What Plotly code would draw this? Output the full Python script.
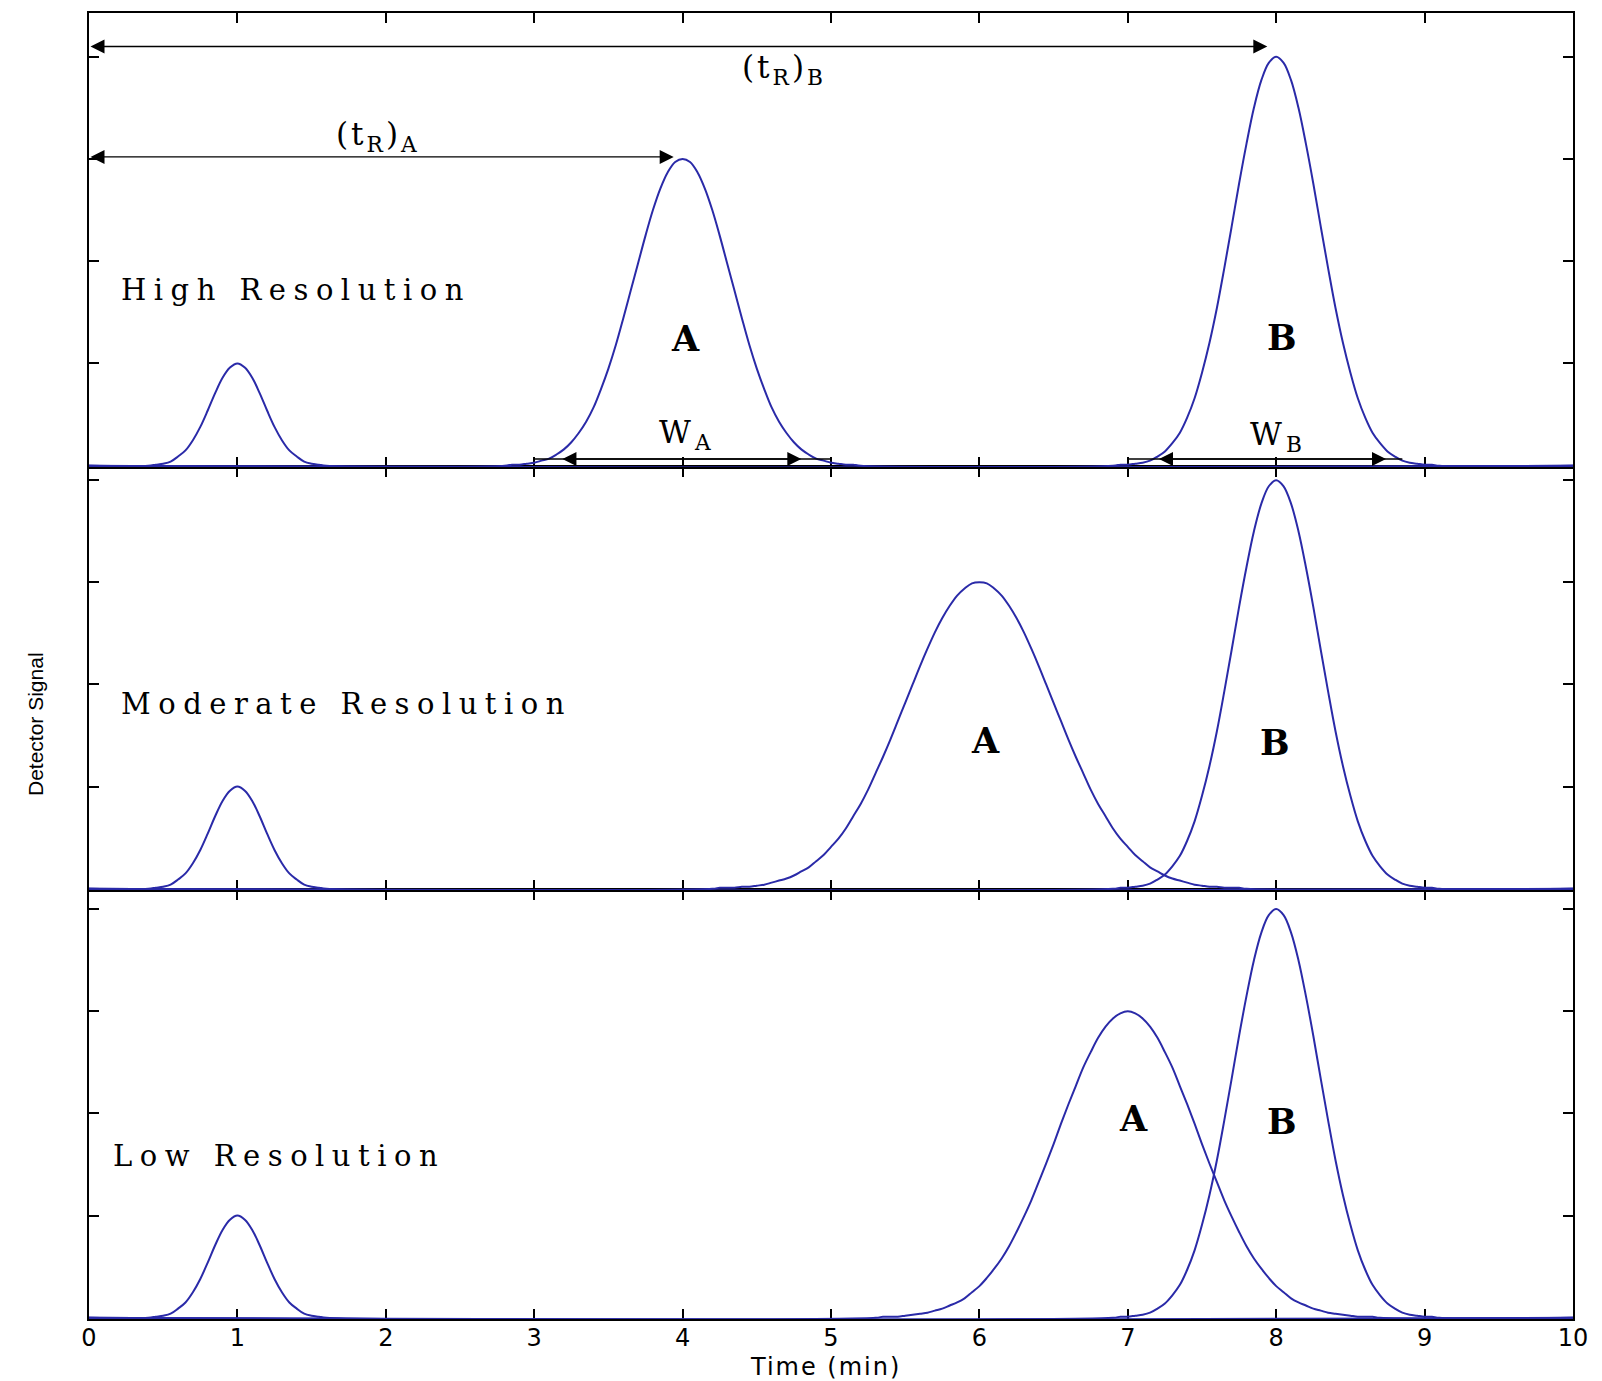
import plotly.graph_objects as go

TIME_SMALL = [0.4, 0.45, 0.5, 0.55, 0.6, 0.65, 0.7, 0.75, 0.8, 0.85, 0.9, 0.95, 1.0,
              1.05, 1.1, 1.15, 1.2, 1.25, 1.3, 1.35, 1.4, 1.45, 1.5, 1.55, 1.6]
SIG_SMALL = [0.0, 0.01, 0.02, 0.04, 0.09, 0.15, 0.25, 0.38, 0.54, 0.71, 0.86, 0.96, 1.0,
             0.96, 0.86, 0.71, 0.54, 0.38, 0.25, 0.15, 0.09, 0.04, 0.02, 0.01, 0.0]

TIME_A_HIGH = [2.8, 2.85, 2.9, 2.95, 3.0, 3.05, 3.1, 3.15, 3.2, 3.25, 3.3, 3.35, 3.4, 3.45,
               3.5, 3.55, 3.6, 3.65, 3.7, 3.75, 3.8, 3.85, 3.9, 3.95, 4.0, 4.05, 4.1, 4.15,
               4.2, 4.25, 4.3, 4.35, 4.4, 4.45, 4.5, 4.55, 4.6, 4.65, 4.7, 4.75, 4.8, 4.85,
               4.9, 4.95, 5.0, 5.05, 5.1, 5.15, 5.2]
SIG_A_HIGH = [0.0, 0.01, 0.01, 0.02, 0.03, 0.05, 0.07, 0.11, 0.16, 0.23, 0.32, 0.43, 0.57,
              0.75, 0.95, 1.18, 1.44, 1.71, 1.98, 2.25, 2.50, 2.71, 2.87, 2.97, 3.0,
              2.97, 2.87, 2.71, 2.50, 2.25, 1.98, 1.71, 1.44, 1.18, 0.95, 0.75, 0.57, 0.43,
              0.32, 0.23, 0.16, 0.11, 0.07, 0.05, 0.03, 0.02, 0.01, 0.01, 0.0]

TIME_A_MOD = [4.2, 4.25, 4.3, 4.35, 4.4, 4.45, 4.5, 4.55, 4.6, 4.65, 4.7, 4.75, 4.8, 4.85,
              4.9, 4.95, 5.0, 5.05, 5.1, 5.15, 5.2, 5.25, 5.3, 5.35, 5.4, 5.45, 5.5, 5.55,
              5.6, 5.65, 5.7, 5.75, 5.8, 5.85, 5.9, 5.95, 6.0, 6.05, 6.1, 6.15, 6.2, 6.25,
              6.3, 6.35, 6.4, 6.45, 6.5, 6.55, 6.6, 6.65, 6.7, 6.75, 6.8, 6.85, 6.9, 6.95,
              7.0, 7.05, 7.1, 7.15, 7.2, 7.25, 7.3, 7.35, 7.4, 7.45, 7.5, 7.55, 7.6, 7.65,
              7.7, 7.75, 7.8]
SIG_A_MOD = [0.0, 0.01, 0.01, 0.01, 0.02, 0.02, 0.03, 0.04, 0.06, 0.08, 0.10, 0.13, 0.17,
             0.21, 0.27, 0.33, 0.41, 0.49, 0.59, 0.71, 0.83, 0.97, 1.13, 1.29, 1.46, 1.64,
             1.82, 2.00, 2.18, 2.35, 2.51, 2.65, 2.77, 2.87, 2.94, 2.99, 3.0,
             2.99, 2.94, 2.87, 2.77, 2.65, 2.51, 2.35, 2.18, 2.00, 1.82, 1.64, 1.46, 1.29,
             1.13, 0.97, 0.83, 0.71, 0.59, 0.49, 0.41, 0.33, 0.27, 0.21, 0.17, 0.13, 0.10,
             0.08, 0.06, 0.04, 0.03, 0.02, 0.02, 0.01, 0.01, 0.01, 0.0]

TIME_A_LOW = [5.3, 5.35, 5.4, 5.45, 5.5, 5.55, 5.6, 5.65, 5.7, 5.75, 5.8, 5.85, 5.9, 5.95,
              6.0, 6.05, 6.1, 6.15, 6.2, 6.25, 6.3, 6.35, 6.4, 6.45, 6.5, 6.55, 6.6, 6.65,
              6.7, 6.75, 6.8, 6.85, 6.9, 6.95, 7.0, 7.05, 7.1, 7.15, 7.2, 7.25, 7.3, 7.35,
              7.4, 7.45, 7.5, 7.55, 7.6, 7.65, 7.7, 7.75, 7.8, 7.85, 7.9, 7.95, 8.0, 8.05,
              8.1, 8.15, 8.2, 8.25, 8.3, 8.35, 8.4, 8.45, 8.5, 8.55, 8.6, 8.65, 8.7]
SIG_A_LOW = [0.0, 0.01, 0.01, 0.01, 0.02, 0.03, 0.04, 0.05, 0.07, 0.09, 0.12, 0.15, 0.19,
             0.25, 0.31, 0.39, 0.48, 0.58, 0.70, 0.84, 0.99, 1.15, 1.33, 1.51, 1.70, 1.90,
             2.09, 2.27, 2.45, 2.60, 2.74, 2.85, 2.93, 2.98, 3.0,
             2.98, 2.93, 2.85, 2.74, 2.60, 2.45, 2.27, 2.09, 1.90, 1.70, 1.51, 1.33, 1.15,
             0.99, 0.84, 0.70, 0.58, 0.48, 0.39, 0.31, 0.25, 0.19, 0.15, 0.12, 0.09, 0.07,
             0.05, 0.04, 0.03, 0.02, 0.01, 0.01, 0.01, 0.0]

TIME_B = [6.9, 6.95, 7.0, 7.05, 7.1, 7.15, 7.2, 7.25, 7.3, 7.35, 7.4, 7.45, 7.5, 7.55,
          7.6, 7.65, 7.7, 7.75, 7.8, 7.85, 7.9, 7.95, 8.0, 8.05, 8.1, 8.15, 8.2, 8.25,
          8.3, 8.35, 8.4, 8.45, 8.5, 8.55, 8.6, 8.65, 8.7, 8.75, 8.8, 8.85, 8.9, 8.95,
          9.0, 9.05, 9.1]
SIG_B = [0.0, 0.01, 0.01, 0.02, 0.03, 0.05, 0.09, 0.14, 0.22, 0.32, 0.47, 0.66, 0.91,
         1.20, 1.54, 1.93, 2.34, 2.76, 3.15, 3.50, 3.77, 3.94, 4.0,
         3.94, 3.77, 3.50, 3.15, 2.76, 2.34, 1.93, 1.54, 1.20, 0.91, 0.66, 0.47, 0.32,
         0.22, 0.14, 0.09, 0.05, 0.03, 0.02, 0.01, 0.01, 0.0]

TIME_RANGE = [0, 10]
X_TICKS = [0, 1, 2, 3, 4, 5, 6, 7, 8, 9, 10]
X_TICK_LABELS = ["0", "1", "2", "3", "4", "5", "6", "7", "8", "9", "10"]
Y_TICKS = [1, 2, 3, 4]

PANEL_NAMES = ["High Resolution", "Moderate Resolution", "Low Resolution"]
PANEL_A = [(TIME_A_HIGH, SIG_A_HIGH), (TIME_A_MOD, SIG_A_MOD), (TIME_A_LOW, SIG_A_LOW)]

for _t, _s in [(TIME_SMALL, SIG_SMALL), (TIME_B, SIG_B)] + PANEL_A:
    assert len(_t) == len(_s)

# retention-time / width markers (data coordinates, top panel)
TR_A = [0.0, 3.94, 3.02]   # start, end, level
TR_B = [0.0, 7.94, 4.10]
W_A = [3.0, 5.0, 3.18, 4.8, 0.066]  # line start, end, head1, head2, level
W_B = [7.0, 8.85, 7.2, 8.74, 0.066]

PEAK_LABEL_POS = [[(4.02, 1.24), (8.04, 1.25)],
                  [(6.04, 1.45), (7.99, 1.43)],
                  [(7.04, 1.95), (8.04, 1.92)]]
NAME_POS = [(0.2, 1.72), (0.2, 1.81), (0.15, 1.58)]

LINE_COLOR = "#2a2aa8"
SERIF = "DejaVu Serif"
SANS = "DejaVu Sans"

REFS = [("x3", "y3"), ("x2", "y2"), ("x", "y")]
Y_RANGES = [[-0.012, 4.427], [-0.012, 4.129], [-0.012, 4.187]]
Y_DOMAINS = [[0.6524, 1.0], [0.3285, 0.6524], [0.0, 0.3285]]


def full(t, s):
    return [TIME_RANGE[0]] + list(t) + [TIME_RANGE[1]], [0.0] + list(s) + [0.0]


def spaced(txt, px):
    return '<span style="letter-spacing:%gpx">%s</span>' % (px, txt)


fig = go.Figure()
for i, (xr, yr) in enumerate(REFS):
    ta, sa = PANEL_A[i]
    for t, s in [(TIME_SMALL, SIG_SMALL), (ta, sa), (TIME_B, SIG_B)]:
        xx, yy = full(t, s)
        fig.add_trace(go.Scatter(x=xx, y=yy, mode="lines", xaxis=xr, yaxis=yr,
                                 line=dict(color=LINE_COLOR, width=2, shape="spline",
                                           smoothing=1.0),
                                 showlegend=False, hoverinfo="skip"))

ann = []
shapes = []
for i, (xr, yr) in enumerate(REFS):
    for txt, (px, py) in zip(["A", "B"], PEAK_LABEL_POS[i]):
        ann.append(dict(x=px, y=py, xref=xr, yref=yr, text=txt, showarrow=False,
                        font=dict(family=SERIF, size=35, color="black", weight="bold")))
    nx, ny = NAME_POS[i]
    ann.append(dict(x=nx, y=ny, xref=xr, yref=yr, xanchor="left",
                    text=spaced(PANEL_NAMES[i], 7.5),
                    showarrow=False, font=dict(family=SERIF, size=29, color="black")))

for seg in (TR_A, TR_B):
    ann.append(dict(x=seg[1], y=seg[2], ax=seg[0], ay=seg[2], xref="x3", yref="y3",
                    axref="x3", ayref="y3", text="", showarrow=True, arrowhead=2,
                    arrowside="end+start", arrowsize=2.0, arrowwidth=1.4,
                    arrowcolor="black", standoff=0, startstandoff=0))
for seg in (W_A, W_B):
    shapes.append(dict(type="line", xref="x3", yref="y3", x0=seg[0], x1=seg[1],
                       y0=seg[4], y1=seg[4], line=dict(color="black", width=1.5)))
    ann.append(dict(x=seg[3], y=seg[4], ax=seg[2], ay=seg[4], xref="x3", yref="y3",
                    axref="x3", ayref="y3", text="", showarrow=True, arrowhead=2,
                    arrowside="end+start", arrowsize=2.0, arrowwidth=1.4,
                    arrowcolor="black", standoff=0, startstandoff=0))

LBL_FONT = dict(family=SERIF, size=31, color="black")
ann += [
    dict(x=1.95, y=3.22, xref="x3", yref="y3",
         text=spaced("(t<sub>R</sub>)<sub>A</sub>", 3), showarrow=False, font=LBL_FONT),
    dict(x=4.68, y=3.87, xref="x3", yref="y3",
         text=spaced("(t<sub>R</sub>)<sub>B</sub>", 3), showarrow=False, font=LBL_FONT),
    dict(x=4.03, y=0.31, xref="x3", yref="y3", text=spaced("W<sub>A</sub>", 4),
         showarrow=False, font=LBL_FONT),
    dict(x=8.01, y=0.29, xref="x3", yref="y3", text=spaced("W<sub>B</sub>", 4),
         showarrow=False, font=LBL_FONT),
    dict(x=0.4966, y=-0.0365, xref="paper", yref="paper", text=spaced("Time (min)", 2),
         showarrow=False, yanchor="middle",
         font=dict(family=SANS, size=24, color="black")),
    dict(x=-0.0357, y=0.4556, xref="paper", yref="paper", text="Detector Signal",
         showarrow=False, textangle=-90, xanchor="center", yanchor="middle",
         font=dict(family="Liberation Sans Narrow, Liberation Sans", size=21,
                   color="black")),
]

axis_common = dict(showline=True, linecolor="black", linewidth=2, mirror="ticks",
                   ticks="inside", ticklen=10, tickwidth=1.5, tickcolor="black",
                   showgrid=False, zeroline=False, automargin=False,
                   layer="below traces")

# the page body adds an 8px offset, so the figure is 8px smaller with shifted margins
layout = dict(
    width=1594, height=1373, template="none",
    paper_bgcolor="white", plot_bgcolor="white",
    margin=dict(l=81, r=29, t=5, b=62),
    showlegend=False,
    annotations=ann, shapes=shapes,
)
for i, (xr, yr) in enumerate(REFS):
    xkey = "xaxis" + xr[1:]
    ykey = "yaxis" + yr[1:]
    xa = dict(axis_common, domain=[0, 1], anchor=yr, range=TIME_RANGE,
              tickvals=X_TICKS, ticktext=X_TICK_LABELS)
    if xr != "x":
        xa.update(matches="x", showticklabels=False)
    else:
        xa.update(tickfont=dict(family=SANS, size=24, color="black"), ticklabelstandoff=-4)
    layout[xkey] = xa
    layout[ykey] = dict(axis_common, domain=Y_DOMAINS[i], anchor=xr, range=Y_RANGES[i],
                        tickvals=Y_TICKS, showticklabels=False)

fig.update_layout(**layout)
fig.write_html("out.html")
